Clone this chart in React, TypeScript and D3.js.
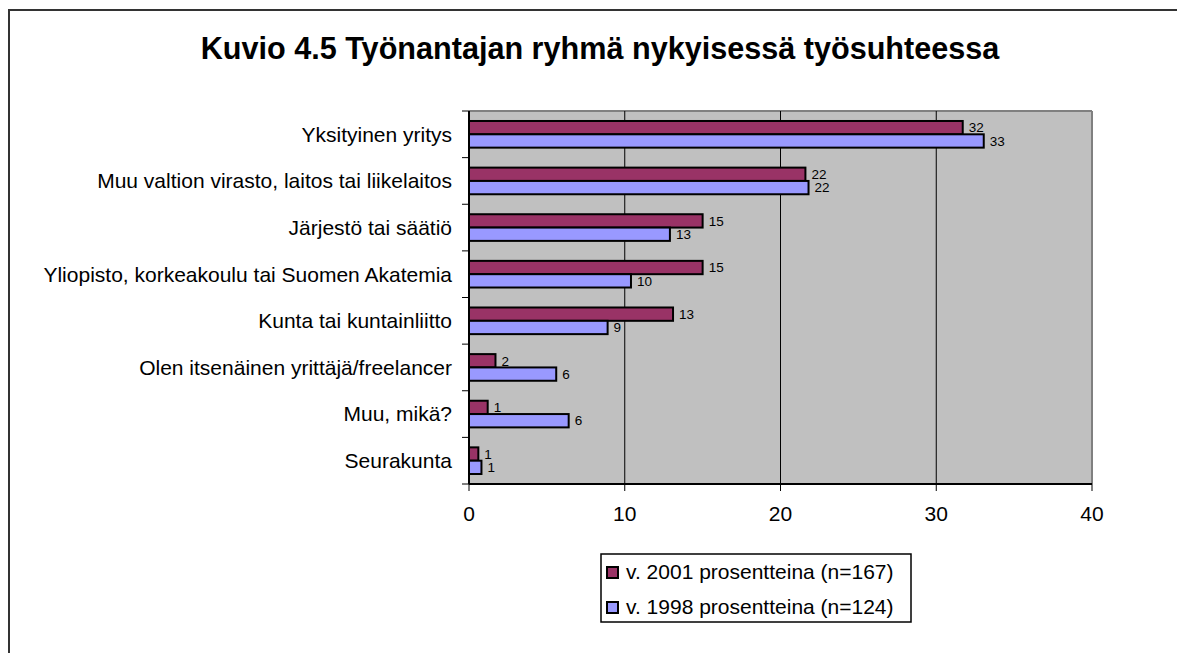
import React from "react";
import * as d3 from "d3";

const categories = [
  "Yksityinen yritys",
  "Muu valtion virasto, laitos tai liikelaitos",
  "Järjestö tai säätiö",
  "Yliopisto, korkeakoulu tai Suomen Akatemia",
  "Kunta tai kuntainliitto",
  "Olen itsenäinen yrittäjä/freelancer",
  "Muu, mikä?",
  "Seurakunta",
];
const values2001 = [31.7, 21.6, 15.0, 15.0, 13.1, 1.7, 1.2, 0.6];
const values1998 = [33.05, 21.8, 12.9, 10.4, 8.9, 5.6, 6.4, 0.8];
const labels2001 = ["32", "22", "15", "15", "13", "2", "1", "1"];
const labels1998 = ["33", "22", "13", "10", "9", "6", "6", "1"];
const seriesNames = ["v. 2001 prosentteina (n=167)", "v. 1998 prosentteina (n=124)"];
const seriesColors = ["#993366", "#9999FF"];
const xTicks = [0, 10, 20, 30, 40];
const title = "Kuvio 4.5 Työnantajan ryhmä nykyisessä työsuhteessa";

const W = 1177;
const H = 653;
const plot = { left: 469, right: 1092, top: 111, bottom: 484 };
const FONT = "'Liberation Sans', Arial, sans-serif";

export default function App() {
  const x = d3.scaleLinear().domain([0, 40]).range([plot.left, plot.right]);
  const y = d3.scaleBand<string>().domain(categories).range([plot.top, plot.bottom]);
  const bw = y.bandwidth();
  const barH = bw / 3.5;
  const pad = (bw - 2 * barH) / 2;
  const series = [
    { values: values2001, labels: labels2001 },
    { values: values1998, labels: labels1998 },
  ];
  const bandEdges = d3.range(categories.length + 1).map((i) => plot.top + i * bw);

  return (
    <svg
      width={W}
      height={H}
      style={{ position: "absolute", left: 0, top: 0, background: "#fff" }}
      fontFamily={FONT}
    >
      <rect x={9} y={10} width={W} height={H} fill="#fff" stroke="#333" strokeWidth={2} />
      <text x={600} y={59} textAnchor="middle" fontSize={30.6} fontWeight="bold" fill="#000">
        {title}
      </text>

      {/* plot area */}
      <rect
        x={plot.left}
        y={plot.top}
        width={plot.right - plot.left}
        height={plot.bottom - plot.top}
        fill="#C0C0C0"
      />
      <line x1={plot.left} x2={plot.right} y1={plot.top} y2={plot.top} stroke="#808080" strokeWidth={2} />
      <line x1={plot.right} x2={plot.right} y1={plot.top} y2={plot.bottom} stroke="#808080" strokeWidth={2} />
      {xTicks.slice(1, -1).map((t) => (
        <line key={"g" + t} x1={x(t)} x2={x(t)} y1={plot.top} y2={plot.bottom} stroke="#000" strokeWidth={1} />
      ))}

      {/* bars */}
      {series.map((s, si) =>
        categories.map((c, i) => {
          const by = (y(c) as number) + pad + si * barH;
          const w = x(s.values[i]) - x(0);
          return (
            <g key={si + "-" + i}>
              <rect
                x={x(0)}
                y={by}
                width={w}
                height={barH}
                fill={seriesColors[si]}
                stroke="#000"
                strokeWidth={2}
              />
              <text
                x={x(s.values[i]) + 6}
                y={by + barH / 2}
                dy="0.35em"
                fontSize={13.5}
                fill="#000"
              >
                {s.labels[i]}
              </text>
            </g>
          );
        })
      )}

      {/* axes */}
      <line x1={plot.left} x2={plot.left} y1={plot.top} y2={plot.bottom} stroke="#000" strokeWidth={2} />
      <line x1={plot.left} x2={plot.right} y1={plot.bottom} y2={plot.bottom} stroke="#000" strokeWidth={2} />
      {bandEdges.map((e, i) => (
        <line key={"yt" + i} x1={plot.left - 7} x2={plot.left} y1={e} y2={e} stroke="#000" strokeWidth={1} />
      ))}
      {categories.map((c) => (
        <text
          key={"yl" + c}
          x={452}
          y={(y(c) as number) + bw / 2}
          dy="0.35em"
          textAnchor="end"
          fontSize={21}
          fill="#000"
        >
          {c}
        </text>
      ))}
      {xTicks.map((t) => (
        <g key={"xt" + t}>
          <line x1={x(t)} x2={x(t)} y1={plot.bottom} y2={plot.bottom + 7} stroke="#000" strokeWidth={1} />
          <text x={x(t)} y={514} dy="0.35em" textAnchor="middle" fontSize={21} fill="#000">
            {t}
          </text>
        </g>
      ))}

      {/* legend */}
      <rect x={601} y={554} width={310} height={68} fill="#fff" stroke="#000" strokeWidth={1.5} />
      {seriesNames.map((n, i) => (
        <g key={"lg" + i}>
          <rect
            x={607}
            y={567 + i * 35}
            width={11}
            height={11}
            fill={seriesColors[i]}
            stroke="#000"
            strokeWidth={2}
          />
          <text x={626} y={572 + i * 35} dy="0.35em" fontSize={21} fill="#000">
            {n}
          </text>
        </g>
      ))}
    </svg>
  );
}
